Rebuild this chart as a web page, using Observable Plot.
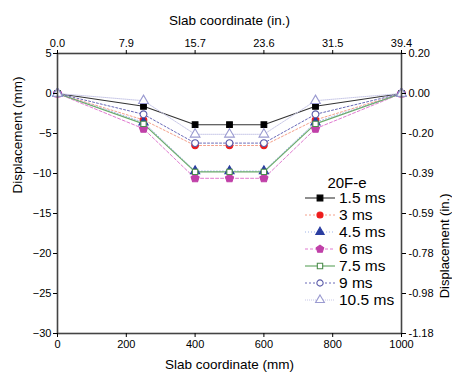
<!DOCTYPE html>
<html>
<head>
<meta charset="utf-8">
<script src="https://cdn.jsdelivr.net/npm/d3@7"></script>
<script src="https://cdn.jsdelivr.net/npm/@observablehq/plot@0.6"></script>
<style>
  body { margin: 0; background: #fff; font-family: "Liberation Sans", Arial, sans-serif; }
  #wrap { position: relative; width: 452px; height: 378px; overflow: hidden; }
  #legend { position: absolute; left: 302px; top: 175px; font-family: "Liberation Sans", Arial, sans-serif; }
  #legend .title { font-size: 15px; text-align: center; width: 90px; height: 15px; line-height: 15px; }
  #legend .row { display: flex; align-items: center; height: 16.9px; }
  #legend .row span { font-size: 15.5px; margin-left: 1px; }
</style>
</head>
<body>
<div id="wrap"><div id="chart"></div><div id="legend"></div></div>
<script>
// ---- data ----
const positions = [0, 250, 400, 500, 600, 750, 1000];           // mm
const seriesNames = ["1.5 ms", "3 ms", "4.5 ms", "6 ms", "7.5 ms", "9 ms", "10.5 ms"];
const s15  = [0, -1.6, -3.9, -3.9, -3.9, -1.6, 0];
const s30  = [0, -3.3, -6.5, -6.5, -6.5, -3.3, 0];
const s45  = [0, -3.6, -9.7, -9.7, -9.7, -3.6, 0];
const s60  = [0, -4.4, -10.6, -10.6, -10.6, -4.4, 0];
const s75  = [0, -3.8, -9.8, -9.8, -9.8, -3.8, 0];
const s90  = [0, -2.6, -6.2, -6.2, -6.2, -2.6, 0];
const s105 = [0, -0.9, -5.1, -5.1, -5.1, -0.9, 0];
const seriesValues = [s15, s30, s45, s60, s75, s90, s105];
const bottomTicks = [0, 200, 400, 600, 800, 1000];
const topTickLabels = ["0.0", "7.9", "15.7", "23.6", "31.5", "39.4"];
const leftTicks = [5, 0, -5, -10, -15, -20, -25, -30];
const rightTickLabels = ["0.20", "0.00", "-0.20", "-0.39", "-0.59", "-0.78", "-0.98", "-1.18"];
const legendTitle = "20F-e";

// ---- styles ----
const pentagon = {
  draw(ctx, size) {
    const r = Math.sqrt(size / 2.4);
    for (let i = 0; i < 5; i++) {
      const a = -Math.PI / 2 + i * 2 * Math.PI / 5;
      const x = r * Math.cos(a), y = r * Math.sin(a);
      if (i === 0) ctx.moveTo(x, y); else ctx.lineTo(x, y);
    }
    ctx.closePath();
  }
};
const styles = [
  {line: "#333333", dash: null,  width: 1.1, symbol: "square",   fill: "#000000", stroke: "#000000", r: 3.2},
  {line: "#f4a08a", dash: "2,2", width: 1.0, symbol: "circle",   fill: "#ee1c1c", stroke: "#ee1c1c", r: 3.3},
  {line: "#9fb4e8", dash: "1,2", width: 1.0, symbol: "triangle", fill: "#2a3da0", stroke: "#2a3da0", r: 3.4},
  {line: "#e07ad0", dash: "3,2", width: 1.0, symbol: pentagon,   fill: "#c040a8", stroke: "#c040a8", r: 3.7},
  {line: "#6aaa6a", dash: null,  width: 1.2, symbol: "square",   fill: "#ffffff", stroke: "#4c8c4c", r: 3.0},
  {line: "#6a6ab8", dash: "2,2", width: 1.0, symbol: "circle",   fill: "#ffffff", stroke: "#5a5aa8", r: 3.4},
  {line: "#c8c8e8", dash: "1,1", width: 1.0, symbol: "triangle", fill: "#ffffff", stroke: "#9a9ad0", r: 3.6}
];

const rows = [];
seriesValues.forEach((vals, si) => vals.forEach((v, i) => rows.push({s: si, x: positions[i], y: v})));

const marks = [];
seriesValues.forEach((vals, si) => {
  const st = styles[si];
  const d = rows.filter(r => r.s === si);
  marks.push(Plot.line(d, {x: "x", y: "y", stroke: st.line, strokeWidth: st.width, strokeDasharray: st.dash}));
});
seriesValues.forEach((vals, si) => {
  const st = styles[si];
  const d = rows.filter(r => r.s === si);
  marks.push(Plot.dot(d, {x: "x", y: "y", symbol: () => st.symbol, r: st.r, fill: st.fill, stroke: st.stroke, strokeWidth: 1.1}));
});

const chart = Plot.plot({
  width: 452,
  height: 378,
  marginLeft: 57,
  marginRight: 51,
  marginTop: 53,
  marginBottom: 45,
  style: {fontFamily: "Liberation Sans, Arial, sans-serif", fontSize: "11px", color: "#000", background: "#fff"},
  x: {domain: [0, 1000]},
  y: {domain: [-30, 5]},
  symbol: {type: "identity"},
  marks: [
    ...marks,
    Plot.frame({stroke: "#444", strokeWidth: 1.6}),
    Plot.axisX({anchor: "bottom", ticks: bottomTicks, tickSize: 4, tickPadding: 3, label: null, tickFormat: d => String(d), fontSize: 11}),
    Plot.axisX({anchor: "top", ticks: bottomTicks, tickSize: 4, tickPadding: 3, label: null, tickFormat: (d, i) => topTickLabels[i], fontSize: 11}),
    Plot.axisY({anchor: "left", ticks: leftTicks, tickSize: 4, tickPadding: 2, label: null, fontSize: 11}),
    Plot.axisY({anchor: "right", ticks: leftTicks, tickSize: 4, tickPadding: 3, label: null, tickFormat: (d, i) => rightTickLabels[i], fontSize: 11}),
    Plot.text(["Slab coordinate (in.)"], {frameAnchor: "top", dy: -38, fontSize: 13.5}),
    Plot.text(["Slab coordinate (mm)"], {frameAnchor: "bottom", dy: 35, fontSize: 13.5}),
    Plot.text(["Displacement (mm)"], {frameAnchor: "left", dx: -40, rotate: -90, fontSize: 13.5}),
    Plot.text(["Displacement (in.)"], {frameAnchor: "right", dx: 43, rotate: -90, fontSize: 13})
  ]
});
document.getElementById("chart").appendChild(chart);

// ---- legend ----
const legend = document.getElementById("legend");
const t = document.createElement("div");
t.className = "title";
t.textContent = legendTitle;
legend.appendChild(t);
seriesNames.forEach((name, si) => {
  const st = styles[si];
  const row = document.createElement("div");
  row.className = "row";
  const svg = d3.create("svg").attr("width", 36).attr("height", 14);
  svg.append("line").attr("x1", 3).attr("x2", 33).attr("y1", 7).attr("y2", 7)
    .attr("stroke", st.line).attr("stroke-width", st.width).attr("stroke-dasharray", st.dash);
  let sym;
  if (typeof st.symbol === "string") {
    const map = {square: d3.symbolSquare, circle: d3.symbolCircle, triangle: d3.symbolTriangle};
    sym = map[st.symbol];
  } else sym = st.symbol;
  const size = st.symbol === "square" ? (2 * st.r) ** 2 * 0.8 : st.symbol === "triangle" ? st.r * st.r * 2.6 : Math.PI * st.r * st.r * 0.85;
  svg.append("path").attr("d", d3.symbol(sym, size)()).attr("transform", "translate(18,7)")
    .attr("fill", st.fill).attr("stroke", st.stroke).attr("stroke-width", 1.1);
  row.appendChild(svg.node());
  const s = document.createElement("span");
  s.textContent = name;
  row.appendChild(s);
  legend.appendChild(row);
});
</script>
</body>
</html>
